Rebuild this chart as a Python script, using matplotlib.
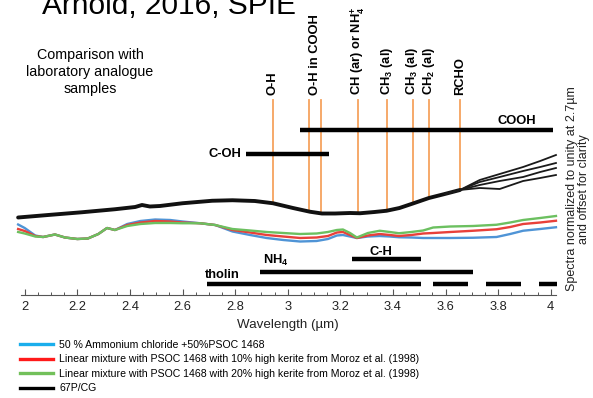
import numpy as np
import matplotlib
matplotlib.use("Agg")
import matplotlib.pyplot as plt
from matplotlib.lines import Line2D
from matplotlib.ticker import MultipleLocator

plt.rcParams['font.family'] = ['Liberation Sans', 'DejaVu Sans']
plt.rcParams['mathtext.fontset'] = 'custom'
plt.rcParams['mathtext.rm'] = 'Liberation Sans'
plt.rcParams['mathtext.bf'] = 'Liberation Sans:bold'

# ---- 67P/CG spectra (normalized to unity at 2.7 um) ----
wl_67p = [1.975, 2.089, 2.218, 2.343, 2.42, 2.446, 2.476, 2.514, 2.6, 2.713,
          2.79, 2.875, 2.944, 3.02, 3.085, 3.13, 3.18, 3.237, 3.275, 3.33,
          3.376, 3.425, 3.476, 3.537, 3.597, 3.655]
r_67p = [0.932, 0.942, 0.953, 0.965, 0.974, 0.982, 0.976, 0.978, 0.989, 0.999,
         1.001, 0.998, 0.989, 0.970, 0.955, 0.948, 0.948, 0.950, 0.949, 0.954,
         0.959, 0.970, 0.988, 1.010, 1.026, 1.042]
# individual acquisitions diverge beyond 3.65 um
wl_tail = [3.73, 3.806, 3.895, 3.96, 4.02]
tail_a = [1.082, 1.106, 1.134, 1.158, 1.182]
tail_b = [1.074, 1.094, 1.118, 1.134, 1.150]
tail_c = [1.062, 1.078, 1.094, 1.114, 1.130]
tail_d = [1.050, 1.046, 1.078, 1.090, 1.102]
offset_67p = 0.0

# ---- laboratory analogues ----
wl_lab = [1.975, 2.0, 2.04, 2.07, 2.115, 2.153, 2.2, 2.24, 2.28, 2.313,
          2.343, 2.39, 2.44, 2.496, 2.553, 2.6, 2.667, 2.724, 2.79, 2.857,
          2.92, 2.983, 3.047, 3.11, 3.153, 3.187, 3.21, 3.237, 3.263, 3.305,
          3.35, 3.388, 3.423, 3.47, 3.515, 3.553, 3.618, 3.705, 3.794, 3.846,
          3.895, 3.96, 4.02]
r_ammonium = [1.000, 0.986, 0.956, 0.950, 0.960, 0.948, 0.942, 0.944, 0.962, 0.986,
              0.978, 1.002, 1.014, 1.020, 1.018, 1.012, 1.005, 0.998, 0.972, 0.958,
              0.946, 0.938, 0.932, 0.934, 0.942, 0.956, 0.958, 0.952, 0.946, 0.952,
              0.954, 0.952, 0.949, 0.948, 0.946, 0.946, 0.946, 0.947, 0.950, 0.962,
              0.975, 0.982, 0.989]
r_kerite10 = [0.982, 0.974, 0.954, 0.950, 0.960, 0.948, 0.942, 0.944, 0.962, 0.986,
              0.978, 0.998, 1.008, 1.014, 1.012, 1.008, 1.005, 0.998, 0.978, 0.968,
              0.958, 0.952, 0.946, 0.948, 0.954, 0.968, 0.970, 0.958, 0.946, 0.956,
              0.962, 0.958, 0.954, 0.958, 0.964, 0.966, 0.970, 0.975, 0.981, 0.990,
              1.002, 1.008, 1.015]
r_kerite20 = [0.970, 0.964, 0.952, 0.950, 0.960, 0.948, 0.942, 0.944, 0.962, 0.986,
              0.978, 0.994, 1.002, 1.006, 1.006, 1.005, 1.005, 0.998, 0.982, 0.976,
              0.970, 0.966, 0.962, 0.964, 0.970, 0.978, 0.980, 0.966, 0.948, 0.966,
              0.975, 0.970, 0.965, 0.970, 0.976, 0.988, 0.992, 0.994, 0.999, 1.008,
              1.018, 1.026, 1.034]
offset_lab = -0.096

# ---- band assignments ----
band_wl = [2.944, 3.081, 3.128, 3.267, 3.378, 3.476, 3.536, 3.654]
band_label_wl = [2.944, 3.105, 3.267, 3.378, 3.474, 3.538, 3.654]
band_labels = ['O-H', 'O-H in COOH', r'CH (ar) or NH$_\mathbf{4}^\mathbf{+}$',
               r'CH$_\mathbf{3}$ (al)', r'CH$_\mathbf{3}$ (al)', r'CH$_\mathbf{2}$ (al)', 'RCHO']

# ---- spectral ranges of candidate species ----
range_names = ['COOH', 'C-OH', 'C-H', 'NH4', 'tholin']
range_spans = {
    'COOH': [(3.045, 4.007)],
    'C-OH': [(2.843, 3.156)],
    'C-H': [(3.244, 3.506)],
    'NH4': [(2.894, 3.705)],
    'tholin': [(2.693, 3.506), (3.552, 3.686), (3.753, 3.886), (3.954, 4.025)],
}
range_levels = {'COOH': 1.282, 'C-OH': 1.186, 'C-H': 0.765, 'NH4': 0.715, 'tholin': 0.666}

legend_labels = ['50 % Ammonium chloride +50%PSOC 1468',
                 'Linear mixture with PSOC 1468 with 10% high kerite from Moroz et al. (1998)',
                 'Linear mixture with PSOC 1468 with 20% high kerite from Moroz et al. (1998)',
                 '67P/CG']

W, H = 593, 398
fig = plt.figure(figsize=(W / 100, H / 100), dpi=100)
xl = (1.96, 4.04)
px0, pxs = 24.7, 263.0
left_px = px0 + (xl[0] - 2) * pxs
right_px = px0 + (xl[1] - 2) * pxs
ax = fig.add_axes([left_px / W, (H - 295) / H, (right_px - left_px) / W, 295 / H])
ax.set_xlim(*xl)
ax.set_ylim((450.5 - 295) / 250, 450.5 / 250)

orange = '#f6a25e'
# band lines from label level down to the 67P spectrum
for w in band_wl:
    ybot = np.interp(w, wl_67p, r_67p) + offset_67p
    ax.plot([w, w], [ybot, 1.402], color=orange, lw=1.3, zorder=2)
for w, lab in zip(band_label_wl, band_labels):
    ax.text(w, 1.422, lab, rotation=90, ha='center', va='bottom', fontsize=9.3,
            fontweight='bold', clip_on=False)

# 67P spectra: common part drawn as an overlapping bundle, then the diverging tails
ax.plot(wl_67p, np.array(r_67p) + offset_67p, color='#111111', lw=2.8, zorder=4,
        solid_capstyle='round')
for tail in [tail_a, tail_b, tail_c, tail_d]:
    ax.plot([wl_67p[-2], wl_67p[-1]] + wl_tail,
            np.array([r_67p[-2], r_67p[-1]] + tail) + offset_67p,
            color='#1a1a1a', lw=1.3, zorder=4)

# laboratory analogues
c_blue, c_red, c_green = '#4f94d6', '#e8403a', '#6cc060'
ax.plot(wl_lab, np.array(r_ammonium) + offset_lab, color=c_blue, lw=1.7, zorder=3)
ax.plot(wl_lab, np.array(r_kerite10) + offset_lab, color=c_red, lw=1.7, zorder=3)
ax.plot(wl_lab, np.array(r_kerite20) + offset_lab, color=c_green, lw=1.7, zorder=3)

# species range bars
for name in range_names:
    for a, b in range_spans[name]:
        ax.plot([a, b], [range_levels[name]] * 2, color='black', lw=3.2,
                solid_capstyle='butt', zorder=5)
ax.text(3.872, 1.319, 'COOH', ha='center', va='center', fontsize=9.3, fontweight='bold')
ax.text(2.825, 1.186, 'C-OH', ha='right', va='center', fontsize=9.3, fontweight='bold')
ax.text(3.353, 0.795, 'C-H', ha='center', va='center', fontsize=9.3, fontweight='bold')
ax.text(2.905, 0.762, r'NH$_\mathbf{4}$', ha='left', va='center', fontsize=9.3, fontweight='bold')
ax.text(2.685, 0.702, 'tholin', ha='left', va='center', fontsize=9.3, fontweight='bold')

# axes styling
for s in ['left', 'right', 'top']:
    ax.spines[s].set_visible(False)
ax.spines['bottom'].set_bounds(1.985, 4.02)
ax.spines['bottom'].set_color('#555555')
ax.spines['bottom'].set_linewidth(0.8)
ax.set_yticks([])
ax.xaxis.set_minor_locator(MultipleLocator(0.05))
ax.set_xticks(np.round(np.arange(2.0, 4.01, 0.2), 1))
ax.set_xticklabels(['2', '2.2', '2.4', '2.6', '2.8', '3', '3.2', '3.4', '3.6', '3.8', '4'])
ax.tick_params(axis='x', which='major', direction='in', length=4.5, width=0.8,
               color='#555555', labelsize=9.3, pad=4, labelcolor='#222222')
ax.tick_params(axis='x', which='minor', direction='in', length=2.5, width=0.7, color='#555555')
ax.set_xlabel('Wavelength (µm)', fontsize=9.6, labelpad=4.5, color='#222222')
ax.set_facecolor('none')

# annotations around the plot
fig.text(42 / W, 1 - 14 / H, 'Arnold, 2016, SPIE', fontsize=21.5, ha='left', va='baseline')
fig.text(90 / W, 1 - 72 / H, 'Comparison with\nlaboratory analogue\nsamples', fontsize=10.3,
         ha='center', va='center', linespacing=1.3)
fig.text(578 / W, 1 - 189 / H, 'Spectra normalized to unity at 2.7µm\nand offset for clarity',
         rotation=90, ha='center', va='center', fontsize=9, color='#222222', linespacing=1.05)

handles = [Line2D([], [], color=c, lw=2.4) for c in ['#1aaeec', '#ff1a1a', '#72c05a', 'black']]
fig.legend(handles, legend_labels, loc='upper left', bbox_to_anchor=(20 / W, 1 - 340 / H),
           frameon=False, fontsize=7.6, handlelength=3.1, handletextpad=0.6,
           labelspacing=0.42, borderpad=0, borderaxespad=0)

fig.savefig('out.png', dpi=100)
